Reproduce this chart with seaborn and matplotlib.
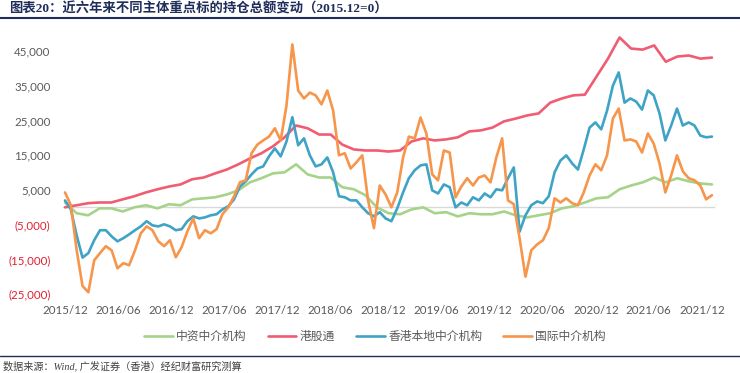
# IMPORT MODULES
import matplotlib
matplotlib.use("Agg")
import matplotlib.pyplot as plt
from matplotlib.lines import Line2D
from matplotlib.ticker import FuncFormatter
import seaborn as sns
import pandas as pd

# DATA (2015.12 = 0)
start_date = "2015-12-31"
end_date = "2022-02-03"

intl_broker = [4300, 600, -12400, -22700, -24500, -15300, -13200, -11200, -12400, -17600,
               -16100, -16700, -12400, -7500, -5500, -6600, -9800, -11200, -9500, -14400,
               -11500, -6900, -3200, -8900, -6600, -7500, -6300, -2000, 0, 3200,
               7200, 7800, 15600, 18100, 19300, 20400, 22800, 19300, 29400, 47000,
               33700, 31400, 33100, 32300, 29700, 33700, 27900, 15000, 15600, 11200,
               13000, 15000, 2000, -6000, 6300, 3700, 0, 4300, 14400, 20400,
               19900, 25900, 21300, 9500, 7800, 16400, 15800, 2900, 6000, 8400,
               6300, 8600, 9200, 7200, 14400, 19900, 2000, 900, -9000, -20000,
               -12400, -10700, -9500, -6000, 2600, 1400, 2600, 1200, 600, 4300,
               9200, 12400, 10700, 15000, 25600, 28500, 19300, 19600, 19000, 15800,
               21300, 18400, 12700, 4300, 9200, 15000, 10400, 8400, 7800, 6300,
               2300, 3500]

hk_local_broker = [2000, -600, -8100, -14500, -13200, -9500, -6600, -6600, -8400, -9800,
                   -8900, -7800, -6600, -5500, -4000, -5200, -5500, -4900, -5500, -6600,
                   -6300, -4000, -2600, -3200, -2900, -2300, -2000, -600, 300, 2300,
                   6000, 7500, 9500, 11200, 11800, 14700, 17000, 14700, 19000, 26000,
                   17900, 19900, 15000, 11800, 12400, 14400, 10100, 3200, 2900, 2000,
                   2000, 0, -1700, -2600, -1400, -3200, -4000, -300, 4300, 8400,
                   10700, 12100, 12400, 4900, 4000, 6600, 5800, 0, 1400, 600,
                   2900, 2000, 4000, 2900, 5200, 4900, 8400, 11500, -7000, -2300,
                   600, 1700, 1200, 3200, 10100, 13500, 15000, 12700, 10900, 16700,
                   23000, 24500, 22500, 27900, 35100, 38900, 30200, 31400, 30500, 28200,
                   33700, 32300, 27100, 19300, 23600, 28500, 23600, 24500, 23600, 20700,
                   20200, 20400]

southbound = [0, 600, 1200, 1400, 1400, 2300, 3200, 4300, 5200, 6000,
              6600, 8100, 8600, 9800, 10900, 12400, 14100, 15600, 17600, 20200,
              23600, 22800, 21000, 21000, 18100, 16700, 16400, 16400, 16100, 16400,
              19000, 19900, 19300, 19600, 20200, 21900, 22200, 23000, 24800, 25600,
              26500, 27100, 30200, 31400, 32300, 32500, 37700, 42900, 49000, 45800,
              45500, 46700, 42000, 43500, 43800, 42900, 43200]

cn_broker = [1400, -1700, -2300, -300, -300, -1200, 0, 600, -300, 900,
             600, 2300, 2600, 2900, 3700, 4900, 7200, 8400, 9800, 10100,
             12400, 9500, 8600, 8600, 5800, 5200, 3500, 0, -1700, -2000,
             -600, 0, -1700, -1400, -2600, -1700, -2000, -2000, -1200, -2300,
             -2900, -2300, -1700, -300, 300, 1400, 2600, 2900, 5200, 6300,
             7200, 8600, 7200, 8400, 7500, 6900, 6600]

series_names = ["中资中介机构", "港股通", "香港本地中介机构", "国际中介机构"]
x_tick_labels = ["2015/12", "2016/06", "2016/12", "2017/06", "2017/12", "2018/06", "2018/12",
                 "2019/06", "2019/12", "2020/06", "2020/12", "2021/06", "2021/12"]
y_ticks = [-25000, -15000, -5000, 5000, 15000, 25000, 35000, 45000]

# DATES
fine_dates = pd.date_range(start_date, end_date, periods=len(intl_broker))
coarse_dates = pd.date_range(start_date, end_date, periods=len(southbound))

series = [
    (series_names[0], coarse_dates, cn_broker, "#A6D38A"),
    (series_names[1], coarse_dates, southbound, "#F05C72"),
    (series_names[2], fine_dates, hk_local_broker, "#3FA3C6"),
    (series_names[3], fine_dates, intl_broker, "#F7954A"),
]

# STYLE
sns.set_style("white")
plt.rcParams['font.family'] = ['Lato', 'Noto Sans CJK SC', 'DejaVu Sans']
plt.rcParams['axes.unicode_minus'] = False

navy = "#1F2D5A"
grey = "#595959"
red = "#E0202F"

fig = plt.figure(figsize=(7.4, 3.73), dpi=100)
ax = fig.add_axes([63 / 740, 1 - 294 / 373, 651 / 740, 260 / 373])

# PLOT THE LINES
for name, d, v, c in series:
    sns.lineplot(x=d, y=v, ax=ax, color=c, linewidth=1.9, label=name, zorder=3)

ax.set_xlim(fine_dates[0] - pd.Timedelta(days=7), fine_dates[-1] + pd.Timedelta(days=7))
ax.set_ylim(-25000, 50000)
ax.set_xlabel("")
ax.set_ylabel("")

# AXES
tick_dates = [pd.to_datetime(t, format="%Y/%m") + pd.offsets.MonthEnd(0) for t in x_tick_labels]
ax.set_xticks(tick_dates)
ax.set_xticklabels(x_tick_labels)
ax.set_yticks(y_ticks)
ax.yaxis.set_major_formatter(FuncFormatter(
    lambda v, p: f"{v:,.0f}" if v >= 0 else f"({-v:,.0f})"))
for tick, val in zip(ax.yaxis.get_major_ticks(), y_ticks):
    tick.label1.set_color(red if val < 0 else grey)

for s in ["top", "right", "left"]:
    ax.spines[s].set_visible(False)
ax.spines["bottom"].set_position(("data", 0))
ax.spines["bottom"].set_color("#D9D9D9")
ax.spines["bottom"].set_linewidth(1)
ax.tick_params(axis="x", direction="out", length=3, width=1, color="#D9D9D9",
               pad=67, labelsize=8.3, labelcolor=grey)
ax.tick_params(axis="y", length=0, pad=9, labelsize=8.3)
ax.grid(False)

# LEGEND
handles, labels = ax.get_legend_handles_labels()
ax.get_legend().remove()
fig.legend(handles, labels, loc="center", bbox_to_anchor=(375 / 740, 1 - 336 / 373),
           ncol=4, frameon=False, fontsize=8.5, handlelength=2.4, handletextpad=0.3,
           columnspacing=1.8, labelcolor=grey)

# TITLE, RULES AND SOURCE
fig.text(0.012, 1 - 9 / 373, "图表20：近六年来不同主体重点标的持仓总额变动（2015.12=0）",
         family=["Liberation Serif", "Noto Sans CJK SC"], fontweight="bold",
         fontsize=9.6, color=navy, va="center", ha="left")
fig.add_artist(Line2D([0, 1], [1 - 17.5 / 373] * 2, transform=fig.transFigure,
                      color=navy, linewidth=1.5))
fig.add_artist(Line2D([0, 1], [1 - 356 / 373] * 2, transform=fig.transFigure,
                      color=navy, linewidth=1))
fig.text(0.004, 1 - 366 / 373, "数据来源：Wind, 广发证券（香港）经纪财富研究测算",
         family=["Liberation Serif", "Noto Sans CJK SC"], style="italic",
         fontsize=7.3, color="#404040", va="center", ha="left")

fig.savefig("out.png", dpi=100)
